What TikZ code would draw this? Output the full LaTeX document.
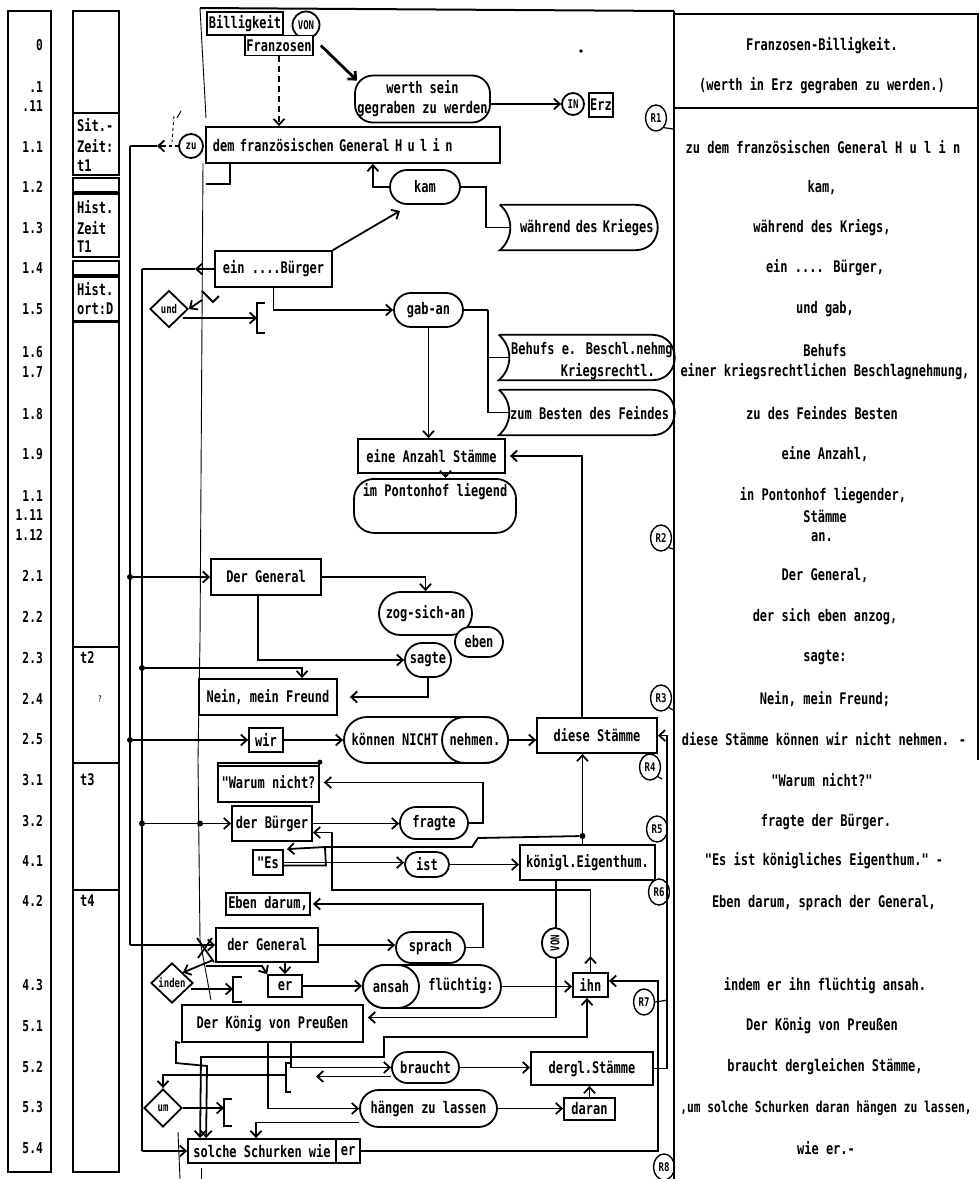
\documentclass[tikz,border=0pt]{standalone}
\usepackage{fontspec}
\newfontfamily\dm[FakeStretch=0.75]{DejaVu Sans Mono}
\usetikzlibrary{arrows.meta,shapes.misc,shapes.geometric,calc}
\newcommand\bnr[1]{\draw[ln] (#1.north west) -- ([xshift=-22pt]#1.north east) .. controls ([xshift=8pt]#1.north east) and ([xshift=8pt]#1.south east) .. ([xshift=-22pt]#1.south east) -- (#1.south west) .. controls ([shift={(14pt,12pt)}]#1.south west) and ([shift={(14pt,-12pt)}]#1.north west) .. (#1.north west);}
\tikzset{
 ln/.style={line width=1.8pt},
 >={Straight Barb[length=6pt,width=11pt]},
 txt/.style={font=\dm\bfseries\fontsize{16}{20}\selectfont, inner sep=0pt},
 sm/.style={font=\dm\bfseries\fontsize{12}{14}\selectfont},
 num/.style={font=\dm\bfseries\fontsize{15}{17}\selectfont, inner sep=0pt},
 box/.style={txt, draw, ln, rectangle, fill=white},
 pill/.style={txt, draw, ln, rounded rectangle, fill=white},
 rbox/.style={txt, draw, ln, rectangle, rounded corners=16pt, fill=white},
 dia/.style={txt, sm, draw, ln, diamond, fill=white},
 circ/.style={txt, sm, draw, ln, circle},
 rc/.style={draw, line width=1.4pt, ellipse, minimum width=21pt, minimum height=26pt, inner sep=0pt, font=\dm\bfseries\fontsize{12}{13}\selectfont},
 frame/.style={line width=2pt},
 thinl/.style={line width=0.9pt},
 dot/.style={circle, fill=black, inner sep=0pt, minimum size=6pt},
}
\begin{document}
\begin{tikzpicture}[x=1pt,y=-1pt]
\useasboundingbox (0,0) rectangle (980,1179);
\fill[white] (0,0) rectangle (980,1179);
% ---------- left columns ----------
\draw[frame] (8,11) rectangle (51,1172);
\foreach \ya/\yb in {11/113,113/175,178/192,194/257,261/275,277/321,322/647,647/763,763/890,890/1172}
  \draw[frame] (73,\ya) rectangle (119,\yb);
\foreach \yy/\lb in {45/0,87/.1,106/.11,147/1.1,187/1.2,228/1.3,268/1.4,309/1.5,352/1.6,372/1.7,414/1.8,454/1.9,496/1.1,515/1.11,535/1.12,576/2.1,617/2.2,658/2.3,699/2.4,739/2.5,780/3.1,821/3.2,861/4.1,901/4.2,985/4.3,1026/5.1,1067/5.2,1107/5.3,1148/5.4}
  \node[num, anchor=east] (n\yy) at (43,\yy) {\lb};
\node[txt, anchor=west] (c1) at (77,125) {Sit.-};
\node[txt, anchor=west] (c2) at (77,146) {Zeit:};
\node[txt, anchor=west] (c3) at (77,166) {t1};
\node[txt, anchor=west] (c4) at (77,207) {Hist.};
\node[txt, anchor=west] (c5) at (77,228) {Zeit};
\node[txt, anchor=west] (c6) at (77,247) {T1};
\node[txt, anchor=west] (c7) at (77,289) {Hist.};
\node[txt, anchor=west] (c8) at (77,309) {ort:D};
\node[txt, anchor=west] (c9) at (80,658) {t2};
\node[font=\dm\fontsize{9}{10}\selectfont, inner sep=0pt] (c10) at (100,699) {?};
\node[txt, anchor=west] (c11) at (80,780) {t3};
\node[txt, anchor=west] (c12) at (80,901) {t4};
% ---------- frames ----------
\draw[frame] (200,8) -- (674,11);
\draw[frame] (674,11) -- (674,1179);
\draw[frame] (674,14) -- (978,14) -- (978,760);
\draw[frame] (674,108) -- (978,108);
\draw[thinl] (200,8) -- (206,118);
\draw[thinl] (203,163) -- (200,640) -- (198,760) -- (200,940) -- (211,1000);
\draw[thinl] (178,1132) -- (180,1179);
\draw[thinl] (201,1168) -- (201,1179);
\draw[thinl,dashed] (174,116) -- (172,142);
\draw[thinl] (177,118) -- (181,111);
\fill (581,51) circle (1.8pt);
% ---------- right column text ----------
\foreach \yy/\xx/\lb in {46/822/Franzosen-Billigkeit.,86/822/(werth in Erz gegraben zu werden.),147/823/zu dem französischen General H u l i n,188/822/{kam,},228/822/{während des Kriegs,},268/825/{ein .... Bürger,},309/825/{und gab,},351/825/Behufs,372/825/{einer kriegsrechtlichen Beschlagnehmung,},413/822/zu des Feindes Besten,454/825/{eine Anzahl,},496/823/{in Pontonhof liegender,},516/825/Stämme,537/822/an.,576/825/{Der General,},617/825/{der sich eben anzog,},658/825/sagte:,699/825/{Nein, mein Freund;},739/824/diese Stämme können wir nicht nehmen. -,780/822/"Warum nicht?",822/826/fragte der Bürger.,861/824/"Es ist königliches Eigenthum." -,903/824/{Eben darum, sprach der General,},986/825/indem er ihn flüchtig ansah.,1026/822/Der König von Preußen,1067/825/{braucht dergleichen Stämme,},1148/826/wie er.-}
  \node[txt] (t\yy) at (\xx,\yy) {\lb};
\node[txt, font=\dm\bfseries\fontsize{15}{17}\selectfont] (t1108) at (826,1108) {,um solche Schurken daran hängen zu lassen,};
% ---------- bus lines ----------
\coordinate (bAt) at (130,146);
\coordinate (bAb) at (130,945);
\coordinate (bBt) at (142,269);
\coordinate (bBb) at (142,1151);
\draw[ln] (bAt) -- (bAb);
\draw[ln] (bBt) -- (bBb);
% ---------- nodes ----------
\node[box, minimum width=76pt, minimum height=23pt] (bill) at (245,23.5) {Billigkeit};
\node[circ, minimum size=27pt] (von1) at (306,25) {VON};
\node[box, minimum width=68pt, minimum height=20pt] (franz) at (279,45.5) {Franzosen};
\node[rbox, minimum width=135pt, minimum height=47pt, align=center, rounded corners=18pt] (werth) at (422.5,99) {werth sein\\gegraben zu werden};
\node[circ, minimum size=22pt] (inc) at (573,104) {IN};
\node[box, minimum width=24pt, minimum height=24pt] (erz) at (601,105) {Erz};
\node[circ, minimum size=24pt, fill=white] (zu) at (191,146) {zu};
\node[box, anchor=west, text width=280pt, align=left, inner xsep=7pt, minimum height=36pt] (zudem) at (205,145) {dem französischen General H u l i n};
\node[pill, minimum width=70pt, minimum height=34pt] (kam) at (425,187) {kam};
\node[txt, minimum width=157pt, minimum height=45pt, text width=150pt, align=right] (waehrend) at (578.5,227.5) {während des Krieges};
\node[box, minimum width=117pt, minimum height=36pt] (ebuerger) at (273.5,269) {ein ....Bürger};
\node[dia, minimum width=38pt, minimum height=37pt] (und) at (169,309) {und};
\node[pill, minimum width=69pt, minimum height=34pt] (gaban) at (428.5,310) {gab-an};
\node[txt, minimum width=175pt, minimum height=45pt] (behufs) at (586.5,357.5) {};
\node[txt, anchor=west] (behufs1) at (511,350) {Behufs e. Beschl.nehmg};
\node[txt, anchor=east] (behufs2) at (655,372) {Kriegsrechtl.};
\node[txt, minimum width=175pt, minimum height=45pt] (zum) at (586.5,412.5) {};
\node[txt, anchor=west] (zumt) at (510,413) {zum Besten des Feindes};
\node[box, minimum width=147pt, minimum height=34pt] (anzahl) at (431.5,456) {eine Anzahl Stämme};
\node[rbox, anchor=north, minimum width=162pt, text height=12pt, text depth=30pt, inner ysep=6pt, rounded corners=20pt] (ponton) at (435,478) {im Pontonhof liegend};
\node[box, minimum width=110pt, minimum height=36pt] (dergen) at (266,577) {Der General};
\node[pill, minimum width=93pt, minimum height=43pt] (zog) at (425.5,613.5) {zog-sich-an};
\node[pill, minimum width=48pt, minimum height=30pt] (eben) at (479,642) {eben};
\node[pill, minimum width=46pt, minimum height=34pt] (sagte) at (428,660) {sagte};
\node[box, minimum width=138pt, minimum height=36pt] (nein) at (268,697) {Nein, mein Freund};
\node[box, minimum width=34pt, minimum height=24pt] (wir) at (266,740) {wir};
\node[pill, minimum width=164pt, minimum height=46pt] (koennen) at (426,740) {};
\node[txt] (koennent) at (395,740) {können NICHT};
\node[pill, minimum width=66pt, minimum height=46pt] (nehmen) at (475,740) {nehmen.};
\node[box, minimum width=120pt, minimum height=35pt] (diese) at (597,735.5) {diese Stämme};
\node[box, minimum width=101pt, minimum height=39pt] (warum) at (268.5,782.5) {"Warum nicht?};
\node[box, minimum width=80pt, minimum height=35pt] (dbuerger) at (272,823.5) {der Bürger};
\node[pill, minimum width=68pt, minimum height=32pt] (fragte) at (434,823) {fragte};
\node[box, minimum width=30pt, minimum height=25pt] (es) at (268,862.5) {"Es};
\node[pill, minimum width=44pt, minimum height=25pt] (ist) at (427,864.5) {ist};
\node[box, minimum width=135pt, minimum height=35pt] (koenigl) at (587.5,862.5) {königl.Eigenthum.};
\node[box, minimum width=84pt, minimum height=22pt] (ebendarum) at (268,904) {Eben darum,};
\node[box, minimum width=102pt, minimum height=34pt] (dgeneral) at (267,945) {der General};
\node[pill, minimum width=69pt, minimum height=31pt] (sprach) at (430.5,947.5) {sprach};
\node[dia, minimum width=42pt, minimum height=40pt] (inden) at (172,983) {inden};
\node[box, minimum width=34pt, minimum height=22pt] (er1) at (285,986) {er};
\node[pill, minimum width=138pt, minimum height=43pt] (ansahfl) at (432,986.5) {};
\node[txt] (fluechtig) at (461,986) {flüchtig:};
\node[pill, minimum width=56pt, minimum height=43pt] (ansah) at (391,986.5) {ansah};
\node[box, minimum width=35pt, minimum height=24pt] (ihn) at (590.5,985) {ihn};
\node[box, minimum width=181pt, minimum height=37pt] (koenig) at (272.5,1023.5) {Der König von Preußen};
\node[pill, minimum width=67pt, minimum height=31pt] (braucht) at (425.5,1067.5) {braucht};
\node[box, minimum width=122pt, minimum height=33pt] (dergl) at (592,1068.5) {dergl.Stämme};
\node[pill, minimum width=137pt, minimum height=37pt] (haengen) at (428.5,1108.5) {hängen zu lassen};
\node[box, minimum width=51pt, minimum height=22pt] (daran) at (589.5,1109) {daran};
\node[dia, minimum width=38pt, minimum height=38pt] (um) at (163,1108) {um};
\node[box, minimum width=148pt, minimum height=24pt] (solche) at (262,1151) {solche Schurken wie};
\node[box, minimum width=24pt, minimum height=24pt] (er2) at (348,1151) {er};
% banners
\bnr{waehrend}
\bnr{behufs}
\bnr{zum}
% extra top line of Warum
\draw[ln] ([yshift=-4pt]warum.north west) -- ([yshift=-4pt]warum.north east);
\fill (warum.north east) circle (2.5pt);
% R marks
\node[rc] (r1) at (656,118) {R1};
\node[rc] (r2) at (661,538) {R2};
\node[rc] (r3) at (661,698) {R3};
\node[rc] (r4) at (650,767) {R4};
\node[rc] (r5) at (657,829) {R5};
\node[rc] (r6) at (659,892) {R6};
\node[rc] (r7) at (644,1002) {R7};
\node[rc] (r8) at (664,1167) {R8};
\draw[line width=1.2pt] (r1.south east) -- (673,129);
\draw[line width=1.2pt] (r2.south east) -- (673,549);
\draw[line width=1.2pt] (r3.south east) -- (673,710);
\draw[line width=1.2pt] (r4.south east) -- (662,779);
\draw[line width=1.2pt] (r7.east) -- (668,1000);
% ---------- connectors ----------
\coordinate (zuarr) at (157,146);
\draw[ln] (bAt) -- (zuarr);
\draw[ln,dash pattern=on 3pt off 3pt] (zu.west) -- ([xshift=6pt]zuarr);
\draw[ln,->] ([xshift=6pt]zuarr) -- (zuarr);
\coordinate (ebarr) at (195,269);
\draw[ln,->] (ebuerger.west) -- (ebarr);
\draw[ln] (ebarr) -- (bBt);
\node[dot] (d1) at (130,577) {};
\node[dot] (d2) at (130,740) {};
\node[dot] (d3) at (142,668) {};
\node[dot] (d4) at (142,823.5) {};
\node[dot] (d5) at (200,823.5) {};
\draw[ln,->] (d1) -- (dergen.west);
\draw[ln,->] (d2) -- (wir.west);
\draw[ln,->] (d3) -| ([xshift=34pt]nein.north);
\draw[ln,->] (d4) -- (dbuerger.west);
\draw[ln,->] (bAb) -- (dgeneral.west);
\draw[ln,->] (bBb) -- (solche.west);
\draw[ln,dash pattern=on 6pt off 4pt,->] (franz.south) -- (franz.south |- zudem.north);
\draw[line width=2.8pt,->] ([xshift=7pt]franz.east) -- ([shift={(3pt,-6pt)}]werth.north west);
\draw[ln,->] (werth.east |- inc.west) -- (inc.west);
\draw[ln,->] (kam.west) -| ([xshift=20pt]zudem.south);
\draw[ln] (kam.east) -- ++(25pt,0) |- ([xshift=10pt]waehrend.west);
\draw[ln,->] (ebuerger.north east) -- ([shift={(-25pt,-6pt)}]kam.south);
\draw[ln] ([xshift=-123pt]zudem.south) -- ++(0,-20pt) -- ++(-24pt,0);
\draw[ln,->] (ebuerger.south) |- (gaban.west);
\coordinate (k1) at (202,300);
\draw[ln,->] (k1) -- (und.east);
\draw[ln] (202,291) -- (213,302) -- (219,296);
\coordinate (br1) at (257,318);
\draw[ln,->] ([shift={(-6pt,-9pt)}]und.east) -- (br1);
\draw[ln] ([shift={(8pt,15pt)}]br1) -- ++(-8pt,0) -- ++(0,-30pt) -- ++(8pt,0);
\draw[ln] (gaban.east) -- ++(24pt,0) coordinate (g1);
\draw[ln] (g1) |- ([xshift=10pt]behufs.west);
\draw[ln] (g1) |- ([xshift=10pt]zum.west);
\draw[ln,->] (gaban.south) -- (gaban.south |- anzahl.north);
\draw[ln,->] ([xshift=14pt]anzahl.south) -- ([xshift=14pt]anzahl.south |- ponton.north);
\draw[ln,->] ([xshift=-15pt]diese.north) |- ([xshift=4pt]anzahl.east);
\draw[ln,->] (dergen.east) -| (zog.north);
\draw[ln,->] ([xshift=-8pt]dergen.south) |- (sagte.west);
\draw[ln,->] (sagte.south) |- ([xshift=12pt]nein.east);
\draw[ln,->] (wir.east) -- (koennen.west);
\draw[ln,->] (nehmen.east) -- (nehmen.east -| diese.west);
\draw[ln,->] (dergl.east) -- ++(13pt,0) |- (diese.east);
\draw[ln,->] (dbuerger.east) -- (dbuerger.east -| fragte.west);
\draw[ln,->] (fragte.east) -- ++(14pt,0) |- ([xshift=4pt]warum.east);
\draw[ln,->] (es.east) -- (es.east -| ist.west);
\draw[ln,->] (ist.east) -- (ist.east -| koenigl.west);
\draw[ln,->] ([xshift=-5pt]koenigl.north) -- ([xshift=-5pt]koenigl.north |- diese.south);
\node[dot] (d6) at (582.5,836) {};
\draw[ln,->] (d6) -- (478,838) -- (472,847) -- (325,847) -- ([xshift=3pt]es.north east);
\draw[ln] ([yshift=-3pt]es.east) -- ++(42pt,0) -- (325,847);
\draw[ln,->] (sprach.east) -- ++(17pt,0) |- ([xshift=2pt]ebendarum.east);
\draw[ln,->] (dgeneral.east) -- (dgeneral.east -| sprach.west);
\coordinate (x1) at (213,960);
\draw[ln,->] (x1) -- (inden.north east);
\draw[ln] (197,938) -- (214,962);
\draw[ln] (212,938) -- (198,958);
\coordinate (br2) at (233,989);
\draw[ln,->] ([shift={(-3pt,-6pt)}]inden.east) -- (br2);
\draw[ln] ([shift={(9pt,12pt)}]br2) -- ++(-9pt,0) -- ++(0,-25pt) -- ++(9pt,0);
\draw[ln,->] ([xshift=18pt]dgeneral.south) -- ([xshift=18pt]dgeneral.south |- er1.north);
\coordinate (x2) at (206,966);
\draw[ln,->] (x2) -- (262,966) -- (er1.north west);
\draw[ln,->] (er1.east) -- (er1.east -| ansahfl.west);
\draw[ln,->] (ansahfl.east) -- (ansahfl.east -| ihn.west);
\draw[ln,->] (ihn.north) -- ++(0,16pt) coordinate (ih1);
\coordinate (lv1) at (332,890);
\draw[ln,->] (ih1) |- (lv1) |- ([yshift=-9pt]dbuerger.east);
\draw[ln,->] ([xshift=-31.5pt]koenigl.south) |- ([shift={(4pt,6pt)}]koenig.east);
\node[draw, ln, ellipse, fill=white, inner sep=0pt, minimum width=30pt, minimum height=26pt, rotate=90, sm] (vonc) at (555,943) {VON};
\draw[ln,->] ([xshift=18.5pt]koenig.south) |- (braucht.west);
\draw[ln,->] ([xshift=-4.5pt]koenig.south) |- (haengen.west);
\draw[ln,->] (braucht.east) -- (braucht.east -| dergl.west);
\coordinate (bb) at (316,1076.5);
\draw[ln,->] ([yshift=-9pt]braucht.west) -- (bb);
\draw[ln,->] (daran.north) -- (daran.north |- dergl.south);
\draw[ln,->] (haengen.east) -- (haengen.east -| daran.west);
\coordinate (b4) at (286,1075);
\draw[ln] ([shift={(5pt,12pt)}]b4) -- ++(-5pt,0) -- ++(0,-29pt) -- ++(5pt,0);
\draw[ln,->] (b4) -| (um.north);
\coordinate (br3) at (224,1108);
\draw[ln,->] (um.east) -- (br3);
\draw[ln] ([shift={(8pt,9pt)}]br3) -- ++(-8pt,0) -- ++(0,-27pt) -- ++(8pt,0);
\draw[ln,->] ([yshift=-14pt]haengen.west) -| ([xshift=-6pt]solche.north);
\draw[ln,<->] ([xshift=13pt]solche.north west) -- (201,1057) -- (384,1057) -- (384,1037) -| ([xshift=-3.5pt]ihn.south);
\draw[ln,->] ([xshift=-1pt]koenig.south west) -- (176,1042) -- (176,1063) -- (207,1066) -- ([xshift=19pt]solche.north west);
\draw[ln,->] (er2.east) -- ++(297pt,0) |- ([yshift=4pt]ihn.east);
\end{tikzpicture}
\end{document}
